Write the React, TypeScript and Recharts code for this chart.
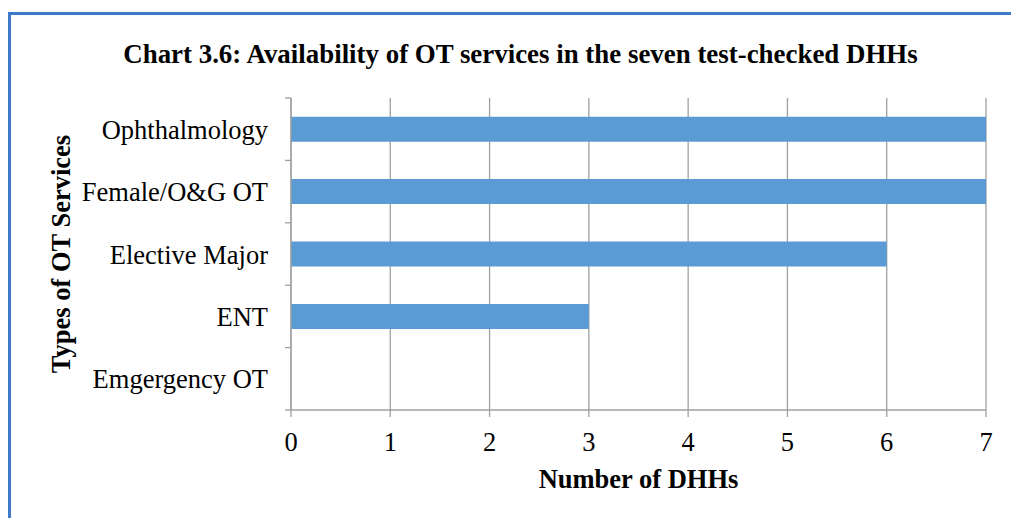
import React from 'react';
import { BarChart, Bar, XAxis, YAxis, CartesianGrid } from 'recharts';

const categories = ['Ophthalmology', 'Female/O&G OT', 'Elective Major', 'ENT', 'Emgergency OT'];
const dhhCounts = [7, 7, 6, 3, 0];
const xTicks = [0, 1, 2, 3, 4, 5, 6, 7];

const data = categories.map((name, i) => ({ name, value: dhhCounts[i] }));

const W = 1011;
const H = 518;
const MARGIN = { top: 98, right: 25, bottom: 0, left: 0 };
const X_AXIS_H = 108;
const Y_AXIS_W = 291;
const PLOT_H = H - MARGIN.top - MARGIN.bottom - X_AXIS_H;
const BAND = PLOT_H / categories.length;

const FONT = '"Liberation Serif", "Times New Roman", serif';
const GRAY = '#a0a0a0';
const FS = 26.5;

const CatTick = (props: any) => {
  const { x, y, payload, index } = props;
  const half = BAND / 2;
  return (
    <g>
      <text x={x - 23} y={y} dy="0.36em" textAnchor="end" fontFamily={FONT} fontSize={FS} fill="#000">
        {payload.value}
      </text>
      <line x1={x - 6} x2={x} y1={y - half} y2={y - half} stroke={GRAY} strokeWidth={1.3} />
      {index === categories.length - 1 && (
        <line x1={x - 6} x2={x} y1={y + half} y2={y + half} stroke={GRAY} strokeWidth={1.3} />
      )}
    </g>
  );
};

export default function App() {
  return (
    <div style={{ position: 'fixed', left: 0, top: 0, width: W, height: H, overflow: 'hidden', background: '#fff' }}>
      <div
        style={{
          position: 'absolute',
          left: 8,
          top: 12,
          width: 1100,
          height: 700,
          border: '3px solid #3b7bc8',
          boxSizing: 'border-box',
        }}
      />
      <div
        style={{
          position: 'absolute',
          left: 15,
          top: 39,
          width: W,
          textAlign: 'center',
          fontFamily: FONT,
          fontWeight: 'bold',
          fontSize: 26.9,
          lineHeight: '30px',
          color: '#000',
        }}
      >
        Chart 3.6: Availability of OT services in the seven test-checked DHHs
      </div>
      <div style={{ position: 'absolute', left: 0, top: 0 }}>
        <BarChart width={W} height={H} data={data} layout="vertical" margin={MARGIN} barCategoryGap="30%">
          <CartesianGrid horizontal={false} vertical={true} stroke={GRAY} strokeWidth={1.3} />
          <XAxis
            type="number"
            domain={[0, 7]}
            ticks={xTicks}
            interval={0}
            height={X_AXIS_H}
            tickSize={7}
            tickMargin={15}
            stroke={GRAY}
            strokeWidth={1.3}
            tick={{ fill: '#000', fontSize: FS, fontFamily: FONT }}
            label={{
              content: (p: any) => {
                const vb = p.viewBox;
                return (
                  <text
                    x={vb.x + vb.width / 2}
                    y={vb.y + 78}
                    textAnchor="middle"
                    fontFamily={FONT}
                    fontWeight="bold"
                    fontSize={FS}
                    fill="#000"
                  >
                    Number of DHHs
                  </text>
                );
              },
            }}
          />
          <YAxis
            type="category"
            dataKey="name"
            width={Y_AXIS_W}
            tickLine={false}
            tickSize={0}
            tickMargin={0}
            interval={0}
            stroke={GRAY}
            strokeWidth={1.3}
            tick={<CatTick />}
            label={{
              content: (p: any) => {
                const vb = p.viewBox;
                const cx = vb.x + 70;
                const cy = vb.y + vb.height / 2;
                return (
                  <text
                    x={cx}
                    y={cy}
                    transform={`rotate(-90, ${cx}, ${cy})`}
                    textAnchor="middle"
                    fontFamily={FONT}
                    fontWeight="bold"
                    fontSize={FS}
                    fill="#000"
                  >
                    Types of OT Services
                  </text>
                );
              },
            }}
          />
          <Bar dataKey="value" fill="#5b9bd5" isAnimationActive={false} />
        </BarChart>
      </div>
    </div>
  );
}
